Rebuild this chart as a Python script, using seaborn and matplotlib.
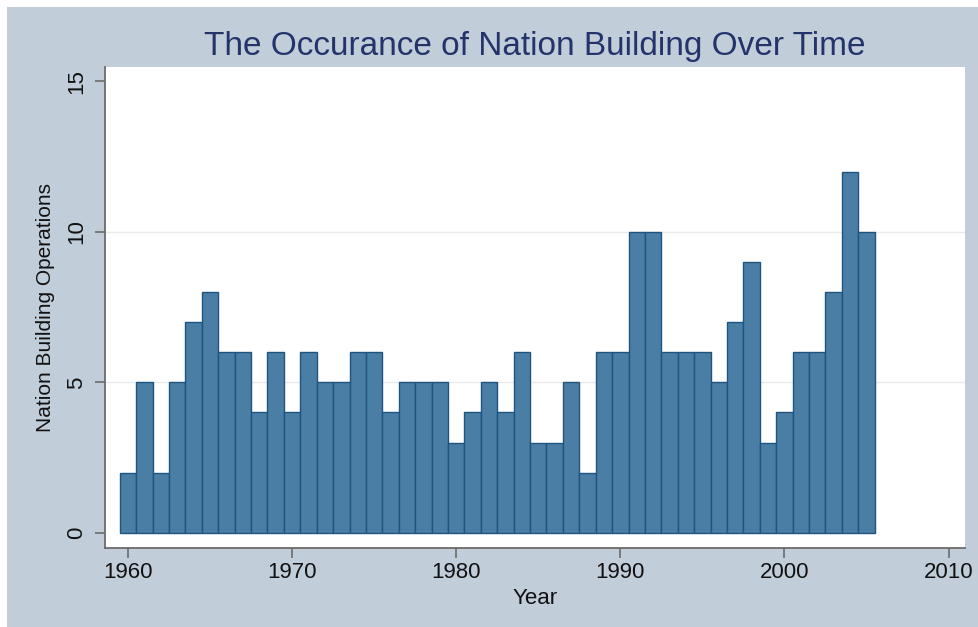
import matplotlib
matplotlib.use("Agg")
import matplotlib.pyplot as plt
import seaborn as sns
import pandas as pd
from matplotlib.patches import Rectangle

# Datos: una barra por año
years = list(range(1960, 2006))
operations = [2, 5, 2, 5, 7, 8, 6, 6, 4, 6,
              4, 6, 5, 5, 6, 6, 4, 5, 5, 5,
              3, 4, 5, 4, 6, 3, 3, 5, 2, 6,
              6, 10, 10, 6, 6, 6, 5, 7, 9, 3,
              4, 6, 6, 8, 12, 10]
df = pd.DataFrame({'year': years, 'ops': operations})

sns.set_theme(style='white')
plt.rcParams['font.family'] = ['Liberation Sans', 'DejaVu Sans']

bg = '#c1cdd9'
fig = plt.figure(figsize=(9.79, 6.27), dpi=100, facecolor='white')
# fondo gris-azulado estilo Stata
fig.patches.append(Rectangle((7 / 979, 0), 1, 1 - 7 / 627, transform=fig.transFigure,
                             facecolor=bg, edgecolor='none', zorder=-1))
ax = fig.add_axes([105 / 979, 1 - 548 / 627, 860 / 979, 481 / 627])
ax.set_facecolor('white')

sns.histplot(data=df, x='year', weights='ops', discrete=True, ax=ax,
             color='#4a7ea5', edgecolor='#1d5580', linewidth=1, alpha=1)

ax.set_xlim(1958.6, 2011.0)
ax.set_ylim(-0.5, 15.47)
ax.set_xticks([1960, 1970, 1980, 1990, 2000, 2010])
ax.set_yticks([0, 5, 10, 15])
for y in [5, 10]:
    ax.axhline(y, color='#eaeaea', linewidth=1, zorder=0)

for side in ['top', 'right']:
    ax.spines[side].set_visible(False)
for side in ['left', 'bottom']:
    ax.spines[side].set_color('#6b6b6b')
    ax.spines[side].set_linewidth(1.3)

ax.tick_params(axis='both', direction='out', length=7, width=1.2, color='#6b6b6b',
               labelsize=16, labelcolor='#111111', left=True, bottom=True)
ax.tick_params(axis='y', pad=6)
ax.tick_params(axis='x', pad=3)
plt.setp(ax.get_yticklabels(), rotation=90, va='center')

ax.set_xlabel('Year', fontsize=16, color='#111111', labelpad=4)
ax.set_ylabel('Nation Building Operations', fontsize=15, color='#111111', labelpad=8)

fig.text(535 / 979, 1 - 46 / 627, 'The Occurance of Nation Building Over Time',
         fontsize=24, color='#24336a', ha='center', va='center')

fig.savefig('out.png', dpi=100, facecolor=fig.get_facecolor())
